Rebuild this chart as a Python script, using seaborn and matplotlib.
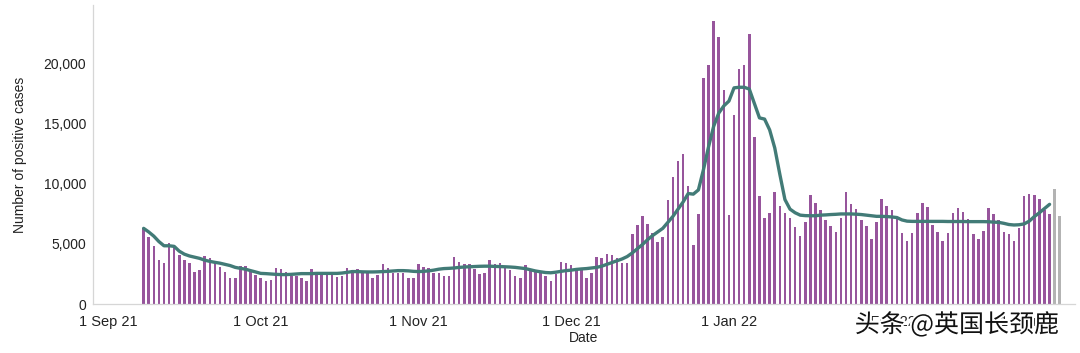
import matplotlib
matplotlib.use("Agg")
import matplotlib.pyplot as plt
import matplotlib.patheffects as pe
import seaborn as sns
import pandas as pd
import numpy as np

# ---------------- data ----------------
start_date = "2021-09-08"
n_days = 181
cases = [
    6300, 5600, 4800, 3700, 3400, 5100, 4900, 4100, 3650, 3400,
    2650, 2850, 4000, 3800, 3400, 3100, 2700, 2200, 2200, 3200,
    3200, 2650, 2400, 2150, 1900, 2000, 3000, 2900, 2700, 2350,
    2330, 2200, 1900, 2900, 2700, 2700, 2700, 2620, 2220, 2340,
    3000, 2840, 2900, 2620, 2650, 2200, 2400, 3330, 3000, 2600,
    2600, 2600, 2150, 2150, 3330, 3100, 3000, 2600, 2600, 2330,
    2330, 3920, 3500, 3330, 3330, 2900, 2470, 2550, 3700, 3330,
    3450, 3100, 2830, 2360, 2200, 3250, 2830, 2830, 2550, 2330,
    1900, 2470, 3500, 3400, 3250, 2900, 2830, 2200, 2550, 3900,
    3800, 4200, 4100, 3800, 3400, 3450, 5800, 6600, 7300, 6700,
    5900, 5200, 5600, 8700, 10550, 11900, 12500, 9800, 4900, 7500,
    18800, 19900, 23600, 22200, 17800, 7400, 15750, 19600, 19900, 22500,
    13900, 9000, 7200, 7550, 9300, 8200, 7600, 7200, 6400, 5700,
    6850, 9100, 8400, 7800, 7000, 6500, 6000, 7200, 9300, 8300,
    7900, 7000, 6500, 5400, 6800, 8750, 8200, 7800, 7100, 5900,
    5250, 5900, 7600, 8400, 8050, 6600, 6000, 5250, 5900, 7550,
    8000, 7700, 7050, 5800, 5400, 6100, 8000, 7500, 7000, 6000,
    5800, 5250, 6300, 9000, 9150, 9100, 8750, 7800, 7500, 9600,
    7300,
]
n_incomplete = 2  # last days shown in grey
rolling_avg = [
    6300, 6000, 5650, 5200, 4850, 4850, 4800, 4400, 4150, 4000,
    3900, 3800, 3650, 3550, 3470, 3400, 3300, 3200, 3050, 2970,
    2900, 2780, 2670, 2550, 2530, 2500, 2470, 2450, 2450, 2470,
    2500, 2530, 2530, 2530, 2550, 2550, 2550, 2550, 2550, 2580,
    2640, 2700, 2700, 2680, 2670, 2670, 2680, 2700, 2720, 2750,
    2780, 2780, 2760, 2720, 2700, 2720, 2760, 2820, 2900, 2950,
    2970, 3000, 3050, 3080, 3100, 3120, 3140, 3150, 3150, 3130,
    3120, 3100, 3080, 3050, 3000, 2950, 2850, 2750, 2680, 2620,
    2600, 2650, 2720, 2780, 2820, 2880, 2920, 2950, 3000, 3050,
    3150, 3300, 3450, 3600, 3750, 3950, 4250, 4600, 4950, 5350,
    5700, 6000, 6300, 6800, 7300, 7900, 8500, 9200, 9150, 9500,
    11200, 13100, 14800, 15900, 16500, 16900, 18000, 18050, 18050, 17900,
    16700, 15500, 15400, 14500, 13000, 10800, 8700, 7900, 7600, 7400,
    7360, 7350, 7350, 7400, 7420, 7450, 7470, 7500, 7500, 7500,
    7480, 7450, 7400, 7350, 7300, 7300, 7280, 7250, 7200, 7000,
    6900, 6880, 6880, 6880, 6880, 6880, 6880, 6880, 6870, 6870,
    6870, 6870, 6860, 6860, 6860, 6860, 6850, 6820, 6800, 6720,
    6620, 6580, 6600, 6670, 6900, 7280, 7600, 7950, 8300,
]
tick_dates = ["2021-09-01", "2021-10-01", "2021-11-01", "2021-12-01",
              "2022-01-01", "2022-02-01", "2022-03-01"]
tick_labels = ["1 Sep 21", "1 Oct 21", "1 Nov 21", "1 Dec 21",
               "1 Jan 22", "1 Feb 22", "1 Mar 22"]
y_ticks = [0, 5000, 10000, 15000, 20000]
y_tick_labels = ["0", "5,000", "10,000", "15,000", "20,000"]

# ---------------- build frame ----------------
origin = pd.Timestamp("2021-09-01")
dates = pd.date_range(start_date, periods=n_days, freq="D")
day_num = np.array((dates - origin).days)
status = ["complete"] * (n_days - n_incomplete) + ["incomplete"] * n_incomplete
df = pd.DataFrame({"day": day_num, "cases": cases, "status": status})
line_df = pd.DataFrame({"day": day_num[:len(rolling_avg)], "avg": rolling_avg})

# ---------------- plot ----------------
sns.set_theme(style="white")
plt.rcParams["font.family"] = ["Liberation Sans", "DejaVu Sans"]

fig = plt.figure(figsize=(10.8, 3.53), dpi=100)
ax = fig.add_axes([0.0861, 0.1388, 0.9093, 0.847])

purple = "#97559c"
teal = "#427b77"
grey = "#b3b3b3"

sns.barplot(data=df, x="day", y="cases", hue="status", native_scale=True,
            palette={"complete": purple, "incomplete": grey},
            width=0.5, dodge=False, legend=False, ax=ax, linewidth=0,
            saturation=1)
sns.lineplot(data=line_df, x="day", y="avg", color=teal, linewidth=2.4,
             ax=ax, legend=False)

ax.set_xlim(-2.95, 190)
ax.set_ylim(0, 24900)

tick_pos = [(pd.Timestamp(d) - origin).days for d in tick_dates]
ax.set_xticks(tick_pos)
ax.set_xticklabels(tick_labels, fontsize=10.5, color="#222222")
ax.set_yticks(y_ticks)
ax.set_yticklabels(y_tick_labels, fontsize=10, color="#222222")
ax.tick_params(axis="x", length=5, width=0.8, color="#cccccc", pad=3)
ax.tick_params(axis="y", length=3, width=0.8, color="#cccccc", pad=2)

for s in ["top", "right"]:
    ax.spines[s].set_visible(False)
for s in ["left", "bottom"]:
    ax.spines[s].set_color("#d6d6d6")
    ax.spines[s].set_linewidth(0.9)

ax.set_xlabel("Date", fontsize=10, color="#222222", labelpad=1)
ax.set_ylabel("Number of positive cases", fontsize=10, color="#222222", labelpad=12)
ax.grid(False)

# watermark
fig.text(0.886, 0.079, "头条 @英国长颈鹿", ha="center", va="center",
         fontsize=18, color="#111111",
         family=["Noto Sans CJK SC", "DejaVu Sans"],
         path_effects=[pe.withStroke(linewidth=3, foreground="white")])

fig.savefig("out.png", dpi=100)
